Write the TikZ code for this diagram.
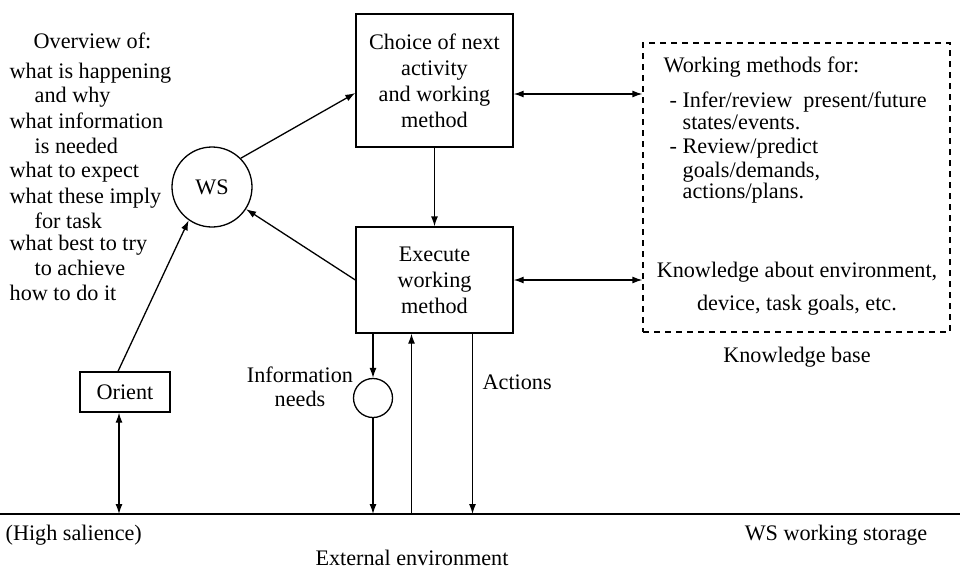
\documentclass[tikz,border=0pt]{standalone}
\usepackage{fontspec}
\setmainfont{Liberation Serif}
\usetikzlibrary{arrows.meta,calc}
\begin{document}
\begin{tikzpicture}[x=1pt,y=-1pt,
  every node/.style={font=\fontsize{22.2}{26}\selectfont, inner sep=0pt},
  arr/.style={-{Latex[length=10pt,width=7pt]}},
  darr/.style={{Latex[length=10pt,width=7pt]}-{Latex[length=10pt,width=7pt]}},
  box/.style={draw, line width=1.3pt, align=center},
  circ/.style={draw, circle, line width=1.3pt},
  txt/.style={anchor=base west},
  ctxt/.style={anchor=base},
  line width=1.3pt]
\useasboundingbox (0,0) rectangle (960,568);

% main boxes
\node[box, minimum width=157pt, minimum height=133pt] (choice) at (434.5,80.5) {Choice of next\\activity\\and working\\method};
\node[box, minimum width=157pt, minimum height=106pt] (execute) at (434.5,280) {Execute\\working\\method};
\node[circ, minimum size=80pt] (ws) at (212,187) {WS};
\node[box, minimum width=90pt, minimum height=40pt] (orient) at (125,392) {Orient};
\node[circ, minimum size=39pt] (info) at (373,398) {};
\node[draw, line width=1.2pt, dash pattern=on 6pt off 5pt, minimum width=307pt, minimum height=289pt] (kb) at (796.5,187.5) {};

% ground line
\coordinate (gl) at (0,514);
\coordinate (gr) at (960,514);
\draw (gl) -- (gr);

% connectors
\draw[arr] (choice) -- (execute);
\draw[darr] ([yshift=-13.5pt]choice.east) -- ([yshift=-13.5pt]choice.east -| kb.west);
\draw[darr] (execute.east) -- (execute.east -| kb.west);
\draw[arr] (ws.45) -- ([yshift=-12.5pt]choice.west);
\draw[arr] (execute.west) -- (ws.-33);
\draw[arr] ([xshift=-7pt]orient.north) -- (ws.-125);
\draw[darr] ([xshift=-6pt]orient.south) -- ([xshift=-6pt]orient.south |- gl);
\draw[arr] (execute.south -| info.north) -- (info.north);
\draw[arr] (info.south) -- (info.south |- gl);
\draw[arr] ([xshift=-23pt]execute.south |- gl) -- ([xshift=-23pt]execute.south);
\draw[arr] ([xshift=38pt]execute.south) -- ([xshift=38pt]execute.south |- gl);

% left overview text
\node[txt] (ov0) at (33,48) {Overview of:};
\node[txt] (ov1) at (9,78) {what is happening};
\node[txt] (ov2) at (34,102) {and why};
\node[txt] (ov3) at (9,128) {what information};
\node[txt] (ov4) at (34,153) {is needed};
\node[txt] (ov5) at (9,177) {what to expect};
\node[txt] (ov6) at (9,203) {what these imply};
\node[txt] (ov7) at (34,228) {for task};
\node[txt] (ov8) at (9,250) {what best to try};
\node[txt] (ov9) at (34,275) {to achieve};
\node[txt] (ov10) at (9,300) {how to do it};

% right text
\node[txt] (wm0) at (663,72) {Working methods for:};
\node[txt] (wm1) at (669,107) {- Infer/review\ \ present/future};
\node[txt] (wm2) at (682,129) {states/events.};
\node[txt] (wm3) at (669,153) {- Review/predict};
\node[txt] (wm4) at (682,177) {goals/demands,};
\node[txt] (wm5) at (682,198) {actions/plans.};
\node[ctxt] (kn1) at (797,277) {Knowledge about environment,};
\node[ctxt] (kn2) at (797,310) {device, task goals, etc.};
\node[ctxt] (kbl) at (797,362) {Knowledge base};

% other labels
\node[ctxt] (in1) at (300,382) {Information};
\node[ctxt] (in2) at (300,406) {needs};
\node[txt] (act) at (482,389) {Actions};
\node[txt] (hs) at (5,540) {(High salience)};
\node[ctxt] (wsst) at (836,540) {WS working storage};
\node[ctxt] (ext) at (412,565) {External environment};
\end{tikzpicture}
\end{document}
